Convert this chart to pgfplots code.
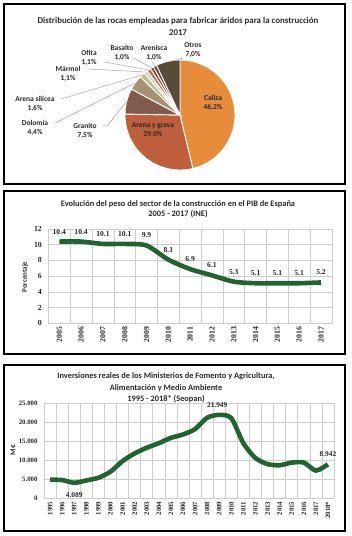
\documentclass[border=0pt]{standalone}
\usepackage{fontspec}
\setmainfont{Carlito}
\newfontfamily\tnr{Liberation Serif}
\usepackage{pgfplots}
\pgfplotsset{compat=1.18}
\definecolor{cCal}{RGB}{230,140,58}
\definecolor{cAre}{RGB}{190,94,58}
\definecolor{cGra}{RGB}{128,90,74}
\definecolor{cDol}{RGB}{166,146,112}
\definecolor{cSil}{RGB}{190,190,150}
\definecolor{cMar}{RGB}{214,214,186}
\definecolor{cOfi}{RGB}{176,112,82}
\definecolor{cBas}{RGB}{150,72,50}
\definecolor{cArn}{RGB}{96,66,48}
\definecolor{cOtr}{RGB}{88,75,55}
\definecolor{lgreen}{RGB}{33,100,50}
\definecolor{gridc}{RGB}{205,205,205}
\definecolor{txt}{RGB}{40,40,40}
\begin{document}
\begin{tikzpicture}[x=1bp,y=1bp]
\useasboundingbox (0,0) rectangle (351,-536);
\draw[line width=1.1bp] (4,-4) rectangle (345,-184);
\draw[line width=1.1bp] (4,-191) rectangle (345,-354);
\draw[line width=1.1bp] (4,-365) rectangle (345,-531);

% ---------- Panel 1: pie ----------
\node[font=\bfseries\fontsize{8.9}{12}\selectfont, align=center, text=txt] at (178,-26) {Distribución de las rocas empleadas para fabricar áridos para la construcción\\2017};
\begin{axis}[at={(180bp,-115bp)}, anchor=center, scale only axis, width=110bp, height=110bp,
  xmin=-1, xmax=1, ymin=-1, ymax=1, hide axis, clip=false]
% percentages: Caliza 46.2, Arena y grava 29.0, Granito 7.5, Dolomia 4.4, Arena silicea 1.6,
% Marmol 1.1, Ofita 1.1, Basalto 1.0, Arenisca 1.0, Otros 7.0 (angle = 90 - 3.6036*cumulative)
\addplot[fill=cCal, draw=white, line width=0.9bp, domain=-76.49:90, samples=60, variable=\t] ({cos(\t)},{sin(\t)}) -- (axis cs:0,0) -- cycle;
\addplot[fill=cAre, draw=white, line width=0.9bp, domain=-180.99:-76.49, samples=50, variable=\t] ({cos(\t)},{sin(\t)}) -- (axis cs:0,0) -- cycle;
\addplot[fill=cGra, draw=white, line width=0.9bp, domain=-208.02:-180.99, samples=20, variable=\t] ({cos(\t)},{sin(\t)}) -- (axis cs:0,0) -- cycle;
\addplot[fill=cDol, draw=white, line width=0.9bp, domain=-223.87:-208.02, samples=12, variable=\t] ({cos(\t)},{sin(\t)}) -- (axis cs:0,0) -- cycle;
\addplot[fill=cSil, draw=white, line width=0.9bp, domain=-229.64:-223.87, samples=6, variable=\t] ({cos(\t)},{sin(\t)}) -- (axis cs:0,0) -- cycle;
\addplot[fill=cMar, draw=white, line width=0.9bp, domain=-233.60:-229.64, samples=5, variable=\t] ({cos(\t)},{sin(\t)}) -- (axis cs:0,0) -- cycle;
\addplot[fill=cOfi, draw=white, line width=0.9bp, domain=-237.57:-233.60, samples=5, variable=\t] ({cos(\t)},{sin(\t)}) -- (axis cs:0,0) -- cycle;
\addplot[fill=cBas, draw=white, line width=0.9bp, domain=-241.17:-237.57, samples=5, variable=\t] ({cos(\t)},{sin(\t)}) -- (axis cs:0,0) -- cycle;
\addplot[fill=cArn, draw=white, line width=0.9bp, domain=-244.77:-241.17, samples=5, variable=\t] ({cos(\t)},{sin(\t)}) -- (axis cs:0,0) -- cycle;
\addplot[fill=cOtr, draw=white, line width=0.9bp, domain=-270:-244.77, samples=20, variable=\t] ({cos(\t)},{sin(\t)}) -- (axis cs:0,0) -- cycle;
\end{axis}
\begin{scope}[font=\bfseries\fontsize{7.5}{9}\selectfont, text=txt, align=center]
\draw[gray!70, line width=0.5bp] (183,-58) -- (168,-62);
\draw[gray!70, line width=0.5bp] (152,-62) -- (155,-66);
\draw[gray!70, line width=0.5bp] (134,-58) -- (139,-61) -- (152,-68);
\draw[gray!70, line width=0.5bp] (104,-62) -- (149,-70);
\draw[gray!70, line width=0.5bp] (88,-69) -- (146,-72);
\draw[gray!70, line width=0.5bp] (61,-99) -- (142,-75);
\draw[gray!70, line width=0.5bp] (55,-123) -- (135,-83);
\draw[gray!70, line width=0.5bp] (103,-126) -- (107,-126) -- (127,-101);
\node at (193,-50) {Otros\\7,0\%};
\node at (154,-52.5) {Arenisca\\1,0\%};
\node at (122,-52.5) {Basalto\\1,0\%};
\node at (89,-57.5) {Ofita\\1,1\%};
\node at (68,-73.5) {Mármol\\1,1\%};
\node at (35,-103.5) {Arena silícea\\1,6\%};
\node at (35,-127.5) {Dolomía\\4,4\%};
\node at (85,-130.5) {Granito\\7,5\%};
\node at (153,-130.5) {Arena y grava\\29,0\%};
\node at (213,-103) {Caliza\\46,2\%};
\end{scope}

% ---------- Panel 2 ----------
\node[font=\bfseries\fontsize{8.4}{10.5}\selectfont, align=center, text=txt] at (178,-209) {Evolución del peso del sector de la construcción en el PIB de España\\2005 - 2017 (INE)};
\node[rotate=90, font=\bfseries\fontsize{7}{8}\selectfont, text=txt] at (25,-277) {Porcentaje};
\begin{axis}[at={(48.4bp,-229bp)}, anchor=north west, scale only axis, width=283.5bp, height=94.3bp,
  xmin=-0.5, xmax=12.5, ymin=0, ymax=12,
  xtick={0,...,12}, xticklabels={2005,2006,2007,2008,2009,2010,2011,2012,2013,2014,2015,2016,2017},
  ytick={0,2,...,12}, ymajorgrids, minor xtick={0.5,1.5,...,11.5}, xminorgrids,
  grid style={gridc, line width=0.6bp}, minor grid style={gridc, line width=0.6bp},
  axis line style={gridc, line width=0.6bp}, major tick length=0, minor tick length=0,
  tick label style={font=\tnr\bfseries\fontsize{7.8}{8}\selectfont, text=txt},
  /pgf/number format/assume math mode=true,
  x tick label style={rotate=90, anchor=east, xshift=0bp},
  y tick label style={xshift=-3bp},
  clip=false,
  nodes near coords, point meta=explicit symbolic,
  every node near coord/.append style={font=\tnr\bfseries\fontsize{7.6}{8}\selectfont, text=txt, anchor=center, yshift=10bp, fill=white, inner sep=0.6bp}]
\addplot[lgreen, line width=4.6bp, smooth, tension=0.45] coordinates {
(0,10.4) [10.4] (1,10.4) [10.4] (2,10.1) [10.1] (3,10.1) [10.1] (4,9.9) [9.9] (5,8.1) [8.1] (6,6.9) [6.9]
(7,6.1) [6.1] (8,5.3) [5.3] (9,5.1) [5.1] (10,5.1) [5.1] (11,5.1) [5.1] (12,5.2) [5.2]};
\end{axis}

% ---------- Panel 3 ----------
\node[font=\bfseries\fontsize{8.4}{11.5}\selectfont, align=center, text=txt] at (166,-388) {Inversiones reales de los Ministerios de Fomento y Agricultura,\\Alimentación y Medio Ambiente\\1995 - 2018* (Seopan)};
\node[rotate=90, font=\bfseries\fontsize{7.4}{8}\selectfont, text=txt] at (13,-450) {M€};
\begin{axis}[at={(44bp,-403.3bp)}, anchor=north west, scale only axis, width=290bp, height=95bp,
  xmin=-0.5, xmax=23.5, ymin=0, ymax=25000, scaled y ticks=false,
  xtick={0,...,23}, xticklabels={1995,1996,1997,1998,1999,2000,2001,2002,2003,2004,2005,2006,2007,2008,2009,2010,2011,2012,2013,2014,2015,2016,2017,2018*},
  ytick={0,5000,10000,15000,20000,25000}, yticklabels={0,5.000,10.000,15.000,20.000,25.000},
  ymajorgrids, minor xtick={0.5,1.5,...,22.5}, xminorgrids,
  grid style={gridc, line width=0.6bp}, minor grid style={gridc, line width=0.6bp},
  axis line style={gridc, line width=0.6bp}, major tick length=0, minor tick length=0,
  tick label style={font=\tnr\bfseries\fontsize{6.8}{7}\selectfont, text=txt},
  /pgf/number format/assume math mode=true,
  x tick label style={rotate=90, anchor=east},
  y tick label style={xshift=-3bp},
  clip=false]
\addplot[lgreen, line width=4.6bp, smooth, tension=0.45] coordinates {
(0,4900) (1,4800) (2,4089) (3,4700) (4,5400) (5,7000) (6,9800) (7,11800) (8,13300) (9,14500)
(10,15900) (11,16800) (12,18200) (13,21200) (14,21949) (15,21100) (16,14500) (17,10600)
(18,9000) (19,8700) (20,9400) (21,9400) (22,7300) (23,8942)};
\node[font=\tnr\bfseries\fontsize{7.4}{8}\selectfont, text=txt] at (axis cs:2,4089) [yshift=-12bp] {4.089};
\node[font=\tnr\bfseries\fontsize{7.4}{8}\selectfont, text=txt] at (axis cs:14,21949) [yshift=10bp, xshift=-2bp] {21.949};
\node[font=\tnr\bfseries\fontsize{7.4}{8}\selectfont, text=txt] at (axis cs:23,8942) [yshift=10bp] {8.942};
\end{axis}
\end{tikzpicture}
\end{document}
